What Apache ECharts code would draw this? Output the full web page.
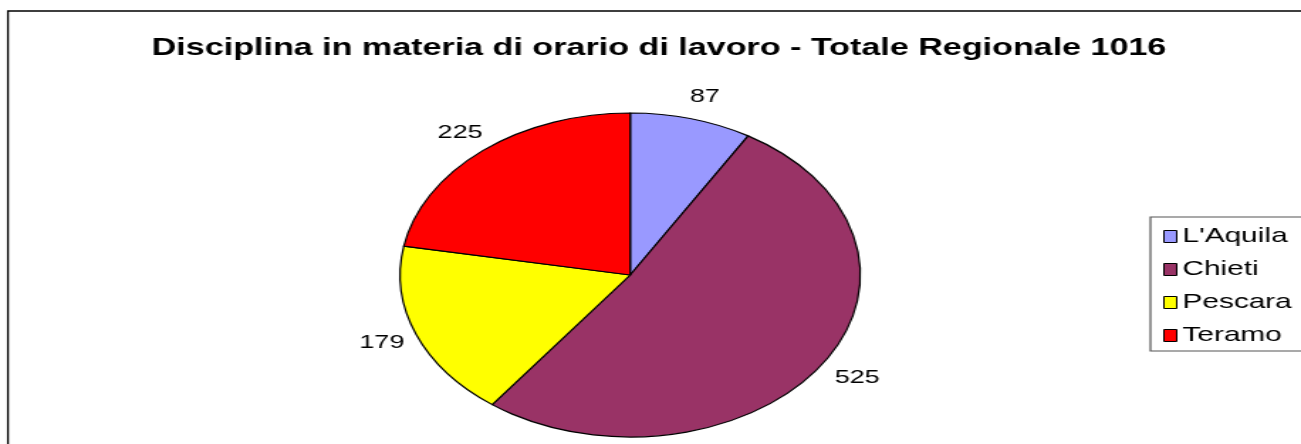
<!DOCTYPE html>
<html>
<head>
<meta charset="utf-8">
<script src="https://cdn.jsdelivr.net/npm/echarts@6/dist/echarts.min.js"></script>
<style>
  html, body { margin: 0; padding: 0; background: #fff; overflow: hidden; }
  /* il grafico originale e' stirato in orizzontale: disegno stretto e poi allargo */
  #chart { width: 916px; height: 444px; transform: scaleX(1.4203); transform-origin: 0 0; }
</style>
</head>
<body>
<div id="chart"></div>
<script>
// dati
var provinces = ["L'Aquila", "Chieti", "Pescara", "Teramo"];
var values = [87, 525, 179, 225];
var colors = ["#9999ff", "#993366", "#ffff00", "#ff0000"];

var total = values.reduce(function (a, b) { return a + b; }, 0);
var starts = [];
var acc = 0;
for (var i = 0; i < values.length; i++) {
  starts.push(acc);
  acc += values[i];
}

var cx = 443.7, cy = 275, r = 162;
var font = '"Liberation Sans", Arial, sans-serif';

var chart = echarts.init(document.getElementById('chart'));
chart.setOption({
  animation: false,
  backgroundColor: '#fff',
  color: colors,
  title: {
    text: 'Disciplina in materia di orario di lavoro - Totale Regionale 1016',
    left: 459,
    textAlign: 'center',
    top: 31,
    textStyle: { fontFamily: font, fontWeight: 'bold', fontSize: 24, color: '#000' }
  },
  legend: {
    orient: 'vertical',
    left: 810,
    top: 217,
    data: provinces,
    icon: 'rect',
    itemWidth: 9,
    itemHeight: 12,
    itemGap: 12,
    padding: [9, 40, 5, 9],
    borderColor: '#555',
    borderWidth: 1.2,
    borderRadius: 0,
    selectedMode: false,
    itemStyle: { borderColor: '#000', borderWidth: 1 },
    textStyle: { fontFamily: font, fontSize: 21, color: '#000', padding: [0, 0, 0, -1] }
  },
  graphic: [
    {
      type: 'rect',
      shape: { x: 5.6, y: 11, width: 1000, height: 500 },
      style: { fill: 'none', stroke: '#000', lineWidth: 1.3 },
      z: -1
    }
  ],
  series: [
    {
      name: 'Totale Regionale',
      type: 'pie',
      center: [cx, cy],
      radius: r,
      startAngle: 90,
      clockwise: true,
      silent: true,
      itemStyle: { borderColor: '#000', borderWidth: 1.2 },
      label: {
        show: true,
        position: 'outside',
        formatter: '{c}',
        fontFamily: font,
        fontSize: 19,
        color: '#000'
      },
      labelLine: { show: false },
      labelLayout: function (p) {
        var i = p.dataIndex;
        var t = (starts[i] + values[i] / 2) / total * Math.PI * 2;
        return {
          x: cx + (r + 28) * Math.sin(t) + 2,
          y: cy - (r + 23) * Math.cos(t),
          align: 'center',
          verticalAlign: 'middle'
        };
      },
      data: provinces.map(function (name, i) {
        return { name: name, value: values[i] };
      })
    }
  ]
});
</script>
</body>
</html>
